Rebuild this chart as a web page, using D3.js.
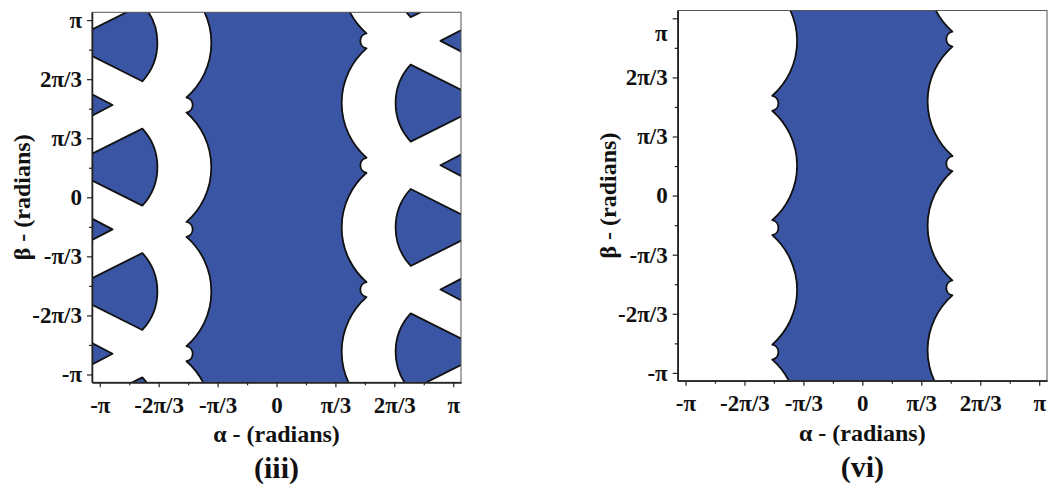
<!DOCTYPE html>
<html><head><meta charset="utf-8">
<script src="https://cdn.jsdelivr.net/npm/d3@7"></script>
<style>
body{margin:0;background:#fff}
svg text{font-family:"Liberation Serif","Times New Roman",serif;font-weight:bold;fill:#111}
</style>
</head><body>
<svg id="chart" width="1051" height="493"></svg>
<script>
const PI = Math.PI;
// ---- axis ticks ----
const tickValues = [-PI, -2*PI/3, -PI/3, 0, PI/3, 2*PI/3, PI];
const tickLabels = ["-π", "-2π/3", "-π/3", "0", "π/3", "2π/3", "π"];
const minorTickValues = [-5*PI/6, -PI/2, -PI/6, PI/6, PI/2, 5*PI/6];
const axisDomain = [-3.28, 3.28];

// ---- central stable region (both panels), radians ----
const leftNotchBeta  = [3.841, 1.636, -0.568, -2.773, -4.977];   // top -> bottom
const rightNotchBeta = [-3.841, -1.636, 0.568, 2.773, 4.977];    // bottom -> top
const cuspAlpha   = 1.6;    // |alpha| of the cusps
const notchHalf   = 0.133;  // half height of the small notch
const notchRadius = 0.136;
const lobeRadius  = 1.291;

// ---- wedges & triangles (panel iii), radians ----
const leftWedgeBeta  = [2.739, 0.535, -1.670, -3.874];
const rightWedgeBeta = [3.874, 1.670, -0.535, -2.739];
const wedgeApexAlpha = 3.753;
const wedgeTipAlpha  = 2.385;
const wedgeTipHalf   = 0.682;
const wedgeArcRadius = 1.007;
const leftTriBeta  = [1.636, -0.568, -2.773];
const rightTriBeta = [2.773, 0.568, -1.636];
const triApexAlpha = 2.915;
const triFarAlpha  = 3.6;
const triSlope     = 0.52;

const panelNames = ["(iii)", "(vi)"];
const xLabel = "α - (radians)";
const yLabel = "β - (radians)";

const BLUE = "#3a55a3";
const svg = d3.select("#chart");

const panels = [
  {name: panelNames[0], x0: 92,    x1: 461,  y0: 12.3, y1: 382.3, wedges: true,  yLabX: 22,  piShift: 0},
  {name: panelNames[1], x0: 677.7, x1: 1047, y0: 10.5, y1: 380.7, wedges: false, yLabX: 608, piShift: 15}
];

panels.forEach((P, pi) => {
  const x = d3.scaleLinear().domain(axisDomain).range([P.x0, P.x1]);
  const y = d3.scaleLinear().domain(axisDomain).range([P.y1, P.y0]);
  const k = x(1) - x(0);
  const g = svg.append("g");

  const clipId = "clip" + pi;
  svg.append("clipPath").attr("id", clipId).append("rect")
    .attr("x", P.x0).attr("y", P.y0).attr("width", P.x1 - P.x0).attr("height", P.y1 - P.y0);

  const plot = g.append("g").attr("clip-path", `url(#${clipId})`);

  const pt = (a, b) => `${x(a).toFixed(2)},${y(b).toFixed(2)}`;
  const arc = (r, sweep, a, b) => `A${(r*k).toFixed(2)},${(r*k).toFixed(2)} 0 0 ${sweep} ${pt(a, b)}`;

  // central region
  let d = "";
  leftNotchBeta.forEach((b, i) => {
    if (i === 0) d += "M" + pt(-cuspAlpha, b - notchHalf);
    else {
      d += arc(lobeRadius, 1, -cuspAlpha, b + notchHalf);
      d += arc(notchRadius, 1, -cuspAlpha, b - notchHalf);
    }
  });
  rightNotchBeta.forEach((b, i) => {
    if (i === 0) d += "L" + pt(cuspAlpha, b - notchHalf);
    else d += arc(lobeRadius, 1, cuspAlpha, b - notchHalf);
    d += arc(notchRadius, 1, cuspAlpha, b + notchHalf);
  });
  d += "Z";
  plot.append("path").attr("d", d).attr("fill", BLUE)
    .attr("stroke", "#111").attr("stroke-width", 1.8).attr("stroke-linejoin", "round");

  if (P.wedges) {
    const shapes = [];
    leftWedgeBeta.forEach(c => shapes.push(
      "M" + pt(-wedgeApexAlpha, c) + "L" + pt(-wedgeTipAlpha, c + wedgeTipHalf) +
      arc(wedgeArcRadius, 1, -wedgeTipAlpha, c - wedgeTipHalf) + "Z"));
    rightWedgeBeta.forEach(c => shapes.push(
      "M" + pt(wedgeApexAlpha, c) + "L" + pt(wedgeTipAlpha, c + wedgeTipHalf) +
      arc(wedgeArcRadius, 0, wedgeTipAlpha, c - wedgeTipHalf) + "Z"));
    const hw = triSlope * (triFarAlpha - triApexAlpha);
    leftTriBeta.forEach(c => shapes.push(
      "M" + pt(-triApexAlpha, c) + "L" + pt(-triFarAlpha, c + hw) + "L" + pt(-triFarAlpha, c - hw) + "Z"));
    rightTriBeta.forEach(c => shapes.push(
      "M" + pt(triApexAlpha, c) + "L" + pt(triFarAlpha, c + hw) + "L" + pt(triFarAlpha, c - hw) + "Z"));
    plot.selectAll("path.w").data(shapes).join("path").attr("class", "w")
      .attr("d", s => s).attr("fill", BLUE)
      .attr("stroke", "#111").attr("stroke-width", 1.8).attr("stroke-linejoin", "round");
  }

  // frame
  g.append("rect").attr("x", P.x0).attr("y", P.y0).attr("width", P.x1 - P.x0).attr("height", P.y1 - P.y0)
    .attr("fill", "none").attr("stroke", "#555").attr("stroke-width", 1);

  // axes
  const fmt = (d) => tickLabels[tickValues.indexOf(d)];
  const xa = g.append("g").attr("transform", `translate(0,${P.y1})`)
    .call(d3.axisBottom(x).tickValues(tickValues).tickFormat(fmt).tickSize(5).tickSizeOuter(0).tickPadding(9));
  const xm = g.append("g").attr("transform", `translate(0,${P.y1})`)
    .call(d3.axisBottom(x).tickValues(minorTickValues).tickFormat("").tickSize(3).tickSizeOuter(0));
  const ya = g.append("g").attr("transform", `translate(${P.x0},0)`)
    .call(d3.axisLeft(y).tickValues(tickValues).tickFormat(fmt).tickSize(5).tickSizeOuter(0).tickPadding(5));
  const ym = g.append("g").attr("transform", `translate(${P.x0},0)`)
    .call(d3.axisLeft(y).tickValues(minorTickValues).tickFormat("").tickSize(3).tickSizeOuter(0));
  [xa, xm, ya, ym].forEach(a => {
    a.select(".domain").attr("stroke", "#222").attr("stroke-width", 1.3);
    a.selectAll(".tick line").attr("stroke", "#222").attr("stroke-width", 1.2);
    a.selectAll("text").attr("font-size", 23).attr("font-family", null);
  });
  if (P.piShift) {
    ya.selectAll(".tick text").filter(d => d === PI).attr("dy", null)
      .attr("transform", `translate(0,${P.piShift})`).attr("dy", "0.32em");
  }

  const cx = (P.x0 + P.x1) / 2;
  g.append("text").attr("x", cx).attr("y", P.y1 + 60).attr("text-anchor", "middle")
    .attr("font-size", 24).text(xLabel);
  g.append("text").attr("transform", `translate(${P.yLabX},${(P.y0 + P.y1) / 2}) rotate(-90)`)
    .attr("text-anchor", "middle").attr("dy", "0.35em").attr("font-size", 24).text(yLabel);
  g.append("text").attr("x", cx).attr("y", P.y1 + 96).attr("text-anchor", "middle")
    .attr("font-size", 30).text(P.name);
});
</script>
</body></html>
